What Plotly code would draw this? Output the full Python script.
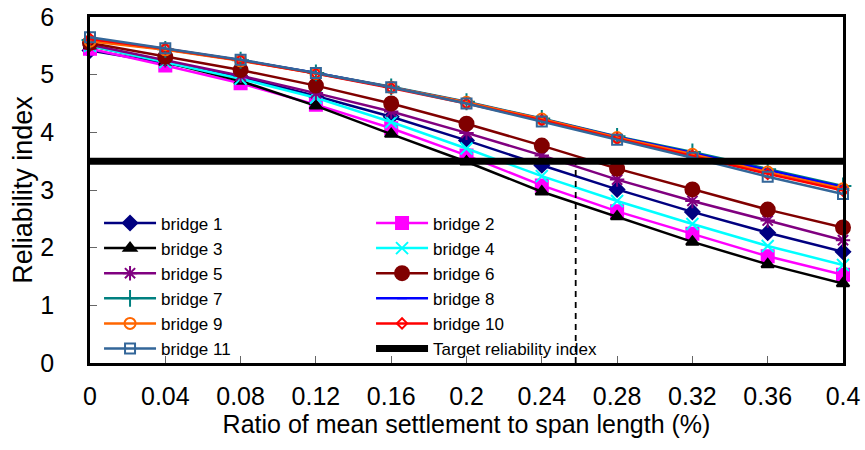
import plotly.graph_objects as go

x_vals = [0, 0.04, 0.08, 0.12, 0.16, 0.2, 0.24, 0.28, 0.32, 0.36, 0.4]
x_tick_labels = ["0", "0.04", "0.08", "0.12", "0.16", "0.2", "0.24", "0.28", "0.32", "0.36", "0.4"]
y_tick_vals = [0, 1, 2, 3, 4, 5, 6]

bridge_1 = [5.42, 5.20, 4.96, 4.63, 4.27, 3.86, 3.43, 3.01, 2.62, 2.26, 1.93]
bridge_2 = [5.45, 5.16, 4.85, 4.48, 4.07, 3.60, 3.08, 2.63, 2.24, 1.85, 1.53]
bridge_3 = [5.50, 5.22, 4.89, 4.46, 3.97, 3.49, 2.97, 2.54, 2.10, 1.71, 1.38]
bridge_4 = [5.50, 5.22, 4.93, 4.60, 4.18, 3.72, 3.24, 2.81, 2.41, 2.03, 1.70]
bridge_5 = [5.52, 5.25, 4.98, 4.68, 4.36, 3.99, 3.60, 3.18, 2.81, 2.47, 2.13]
bridge_6 = [5.55, 5.31, 5.08, 4.81, 4.50, 4.15, 3.77, 3.37, 3.01, 2.66, 2.35]
bridge_7 = [5.60, 5.44, 5.25, 5.03, 4.79, 4.53, 4.24, 3.93, 3.66, 3.36, 3.07]
bridge_8 = [5.60, 5.44, 5.25, 5.03, 4.78, 4.52, 4.23, 3.92, 3.64, 3.34, 3.05]
bridge_9 = [5.58, 5.43, 5.24, 5.02, 4.78, 4.52, 4.23, 3.91, 3.62, 3.31, 3.02]
bridge_10 = [5.62, 5.45, 5.25, 5.02, 4.77, 4.50, 4.21, 3.89, 3.59, 3.28, 2.99]
bridge_11 = [5.65, 5.46, 5.26, 5.03, 4.78, 4.50, 4.19, 3.87, 3.56, 3.23, 2.93]

target_index = 3.5
settlement_limit = 0.258

series = [
    ("bridge 1", bridge_1, "#000080", "diamond", 11, "#000080"),
    ("bridge 2", bridge_2, "#FF00FF", "square", 12, "#FF00FF"),
    ("bridge 3", bridge_3, "#000000", "triangle-up", 11, "#000000"),
    ("bridge 4", bridge_4, "#00FFFF", "x-thin-open", 12, "#00FFFF"),
    ("bridge 5", bridge_5, "#800080", "asterisk-open", 12, "#800080"),
    ("bridge 6", bridge_6, "#800000", "circle", 14, "#800000"),
    ("bridge 7", bridge_7, "#008080", "cross-thin-open", 12, "#008080"),
    ("bridge 8", bridge_8, "#0000FF", "line-ew-open", 7, "#0000FF"),
    ("bridge 9", bridge_9, "#FF6600", "circle-open", 11, "#FF6600"),
    ("bridge 10", bridge_10, "#FF0000", "diamond-open", 8, "#FF0000"),
    ("bridge 11", bridge_11, "#336699", "square-open", 10, "#336699"),
]

fig = go.Figure()
for name, vals, color, sym, size, mcol in series:
    fig.add_trace(go.Scatter(
        x=x_vals, y=vals, name=name, mode="lines+markers",
        line=dict(color=color, width=2.5),
        marker=dict(symbol=sym, size=size, color=mcol,
                    line=dict(color=mcol, width=2)),
        cliponaxis=False,
    ))

fig.add_trace(go.Scatter(
    x=[x_vals[0], x_vals[-1]], y=[target_index, target_index],
    name="Target reliability index", mode="lines",
    line=dict(color="black", width=7), cliponaxis=False,
))

fig.add_trace(go.Scatter(
    x=[settlement_limit, settlement_limit], y=[0, target_index],
    mode="lines", showlegend=False,
    line=dict(color="black", width=1.8, dash="6px,5px"),
))

fig.update_layout(
    width=865, height=450,
    margin=dict(l=90, r=22, t=17, b=87),
    paper_bgcolor="white", plot_bgcolor="white",
    font=dict(family="Liberation Sans, Arial, sans-serif", color="black"),
    legend=dict(
        orientation="h", x=0.012, y=-0.01, xanchor="left", yanchor="bottom",
        font=dict(size=17), bgcolor="rgba(0,0,0,0)",
        entrywidth=205, entrywidthmode="pixels", itemwidth=52,
        traceorder="normal",
    ),
    xaxis=dict(
        range=[0, 0.4], tickvals=x_vals, ticktext=x_tick_labels,
        ticks="inside", ticklen=7, tickcolor="#666", tickwidth=1,
        showline=True, linecolor="black", linewidth=2.5, mirror=True,
        showgrid=False, zeroline=False, automargin=False,
        ticklabeloverflow="allow",
        tickfont=dict(size=25), ticklabelstandoff=9,
        title=dict(text="Ratio of mean settlement to span length (%)",
                   font=dict(size=25), standoff=4),
    ),
    yaxis=dict(
        range=[0, 6], tickvals=y_tick_vals,
        ticks="inside", ticklen=7, tickcolor="#666", tickwidth=1,
        showline=True, linecolor="black", linewidth=2.5, mirror=True,
        showgrid=False, zeroline=False, automargin=False,
        ticklabeloverflow="allow",
        tickfont=dict(size=25), ticklabelstandoff=28,
        title=dict(text="Reliability index", font=dict(size=27), standoff=0),
    ),
)

fig.write_html("out.html", config={"displayModeBar": False},
               post_script="document.body.style.margin='0';")
